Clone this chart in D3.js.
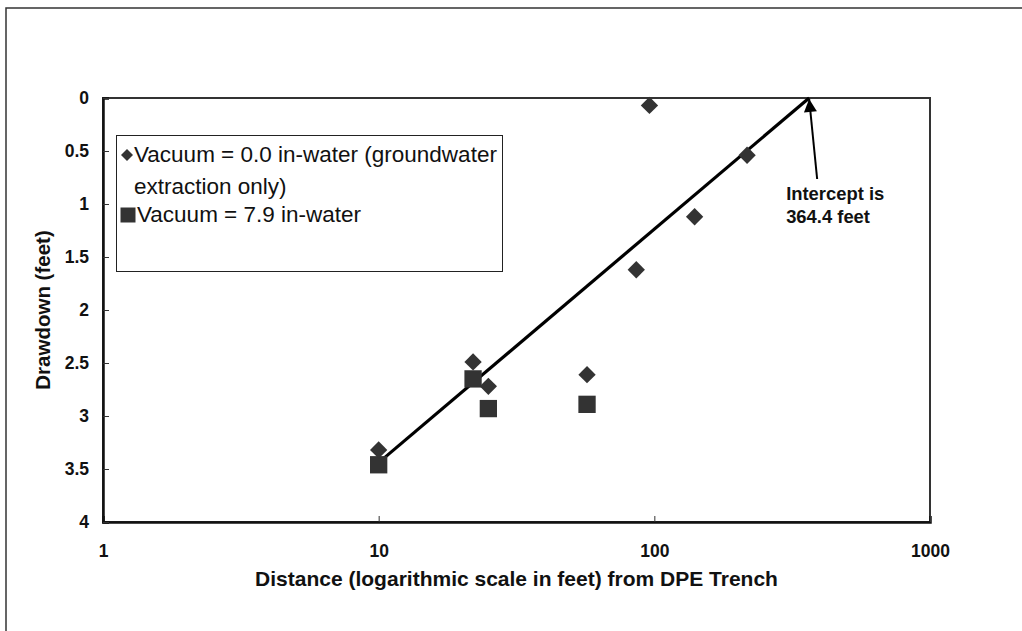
<!DOCTYPE html>
<html>
<head>
<meta charset="utf-8">
<script src="https://cdn.jsdelivr.net/npm/d3@7"></script>
<style>
  body { margin: 0; background: #fff; }
  svg { display: block; font-family: "Liberation Sans", Arial, sans-serif; }
</style>
</head>
<body>
<div id="chart"></div>
<script>
// drawdown measured at each distance (feet)
const noVacDist = [10, 22, 25, 57, 86, 96, 140, 217];
const noVacDrawdown = [3.32, 2.49, 2.72, 2.61, 1.62, 0.07, 1.12, 0.54];
const vacDist = [10, 22, 25, 57];
const vacDrawdown = [3.46, 2.65, 2.93, 2.89];

// fitted line, start and x-intercept
const fitDist = [10, 364.4];
const fitDrawdown = [3.44, 0];

const xTicks = [1, 10, 100, 1000];
const yTicks = [0, 0.5, 1, 1.5, 2, 2.5, 3, 3.5, 4];

const legendLabels = [
    ["Vacuum = 0.0 in-water (groundwater", "extraction only)"],
    ["Vacuum = 7.9 in-water"]
];

const W = 1022, H = 631;
const plot = { left: 103, right: 930, top: 98, bottom: 522 };
const markColor = "#333333";

const svg = d3.select("#chart").append("svg")
    .attr("width", W)
    .attr("height", H);

// outer chart border (right and bottom cut off)
svg.append("rect")
    .attr("x", 6).attr("y", 8)
    .attr("width", 1100).attr("height", 700)
    .attr("fill", "none")
    .attr("stroke", "#333")
    .attr("stroke-width", 1.5);

const x = d3.scaleLog()
    .domain([1, 1000])
    .range([plot.left, plot.right]);

const y = d3.scaleLinear()
    .domain([0, 4])
    .range([plot.top, plot.bottom]);

// plot area frame
svg.append("rect")
    .attr("x", plot.left).attr("y", plot.top)
    .attr("width", plot.right - plot.left)
    .attr("height", plot.bottom - plot.top)
    .attr("fill", "none")
    .attr("stroke", "#333")
    .attr("stroke-width", 2);

const xAxis = d3.axisBottom(x)
    .tickValues(xTicks)
    .tickFormat(d3.format("d"))
    .tickSize(-6)
    .tickPadding(23);

const gx = svg.append("g")
    .attr("transform", `translate(0,${plot.bottom})`)
    .call(xAxis);

const yAxis = d3.axisLeft(y)
    .tickValues(yTicks)
    .tickFormat(d => d)
    .tickSize(-6)
    .tickPadding(14);

const gy = svg.append("g")
    .attr("transform", `translate(${plot.left},0)`)
    .call(yAxis);

[gx, gy].forEach(g => {
    g.select(".domain").attr("stroke", "#111").attr("stroke-width", 2.5);
    g.selectAll(".tick line").attr("stroke", "#333").attr("stroke-width", 1);
    g.selectAll(".tick text")
        .attr("fill", "#111")
        .style("font-size", "17.5px")
        .style("font-weight", "bold")
        .style("font-family", "'Liberation Sans', Arial, sans-serif");
});

// axis titles
svg.append("text")
    .attr("x", (plot.left + plot.right) / 2)
    .attr("y", 586)
    .attr("text-anchor", "middle")
    .style("font-size", "21px")
    .style("font-weight", "bold")
    .attr("fill", "#111")
    .text("Distance (logarithmic scale in feet) from DPE Trench");

svg.append("text")
    .attr("transform", `translate(50,${(plot.top + plot.bottom) / 2}) rotate(-90)`)
    .attr("text-anchor", "middle")
    .style("font-size", "20.5px")
    .style("font-weight", "bold")
    .attr("fill", "#111")
    .text("Drawdown (feet)");

// fitted line
const fitData = fitDist.map((d, i) => ({ x: d, y: fitDrawdown[i] }));
svg.append("path")
    .datum(fitData)
    .attr("fill", "none")
    .attr("stroke", "#000")
    .attr("stroke-width", 3.2)
    .attr("d", d3.line().x(d => x(d.x)).y(d => y(d.y)));

// points
const diamond = d3.symbol().type(d3.symbolSquare).size(150);
const square = d3.symbol().type(d3.symbolSquare).size(300);

svg.append("g").selectAll("path")
    .data(vacDist.map((d, i) => ({ x: d, y: vacDrawdown[i] })))
    .join("path")
    .attr("d", square)
    .attr("fill", markColor)
    .attr("transform", d => `translate(${x(d.x)},${y(d.y)})`);

svg.append("g").selectAll("path")
    .data(noVacDist.map((d, i) => ({ x: d, y: noVacDrawdown[i] })))
    .join("path")
    .attr("d", diamond)
    .attr("fill", markColor)
    .attr("transform", d => `translate(${x(d.x)},${y(d.y)}) rotate(45)`);

// intercept annotation
const tip = { x: x(fitDist[1]), y: y(0) };
const defs = svg.append("defs");
defs.append("marker")
    .attr("id", "arrow")
    .attr("viewBox", "0 0 10 10")
    .attr("refX", 10).attr("refY", 5)
    .attr("markerWidth", 7.5).attr("markerHeight", 6.5)
    .attr("markerUnits", "strokeWidth")
    .attr("orient", "auto")
    .append("path")
    .attr("d", "M0,0 L10,5 L0,10 z")
    .attr("fill", "#000");

svg.append("line")
    .attr("x1", tip.x + 8).attr("y1", tip.y + 81)
    .attr("x2", tip.x).attr("y2", tip.y + 1)
    .attr("stroke", "#000")
    .attr("stroke-width", 2)
    .attr("marker-end", "url(#arrow)");

const noteX = tip.x - 23;
const note = svg.append("text")
    .attr("y", 200)
    .style("font-size", "18.4px")
    .style("font-weight", "bold")
    .attr("fill", "#111");
note.append("tspan").attr("x", noteX).text("Intercept is");
note.append("tspan").attr("x", noteX).attr("dy", 23).text("364.4 feet");

// legend
const legend = svg.append("g");
legend.append("rect")
    .attr("x", 116.5).attr("y", 135.5)
    .attr("width", 386).attr("height", 136)
    .attr("fill", "#fff")
    .attr("stroke", "#222")
    .attr("stroke-width", 1);

legend.append("path")
    .attr("d", d3.symbol().type(d3.symbolSquare).size(72))
    .attr("fill", markColor)
    .attr("transform", "translate(127,155) rotate(45)");

legend.append("path")
    .attr("d", d3.symbol().type(d3.symbolSquare).size(225))
    .attr("fill", markColor)
    .attr("transform", "translate(128,215)");

const lt1 = legend.append("text")
    .attr("y", 162)
    .style("font-size", "22.5px")
    .attr("fill", "#111");
lt1.selectAll("tspan")
    .data(legendLabels[0])
    .join("tspan")
    .attr("x", 134)
    .attr("dy", (d, i) => i === 0 ? 0 : 32)
    .text(d => d);

legend.append("text")
    .attr("x", 137)
    .attr("y", 222)
    .style("font-size", "22.5px")
    .attr("fill", "#111")
    .text(legendLabels[1][0]);
</script>
</body>
</html>
